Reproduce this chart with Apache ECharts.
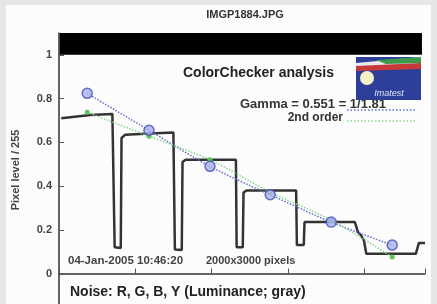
<!DOCTYPE html>
<html>
<head>
<meta charset="utf-8">
<script src="https://cdn.jsdelivr.net/npm/echarts@6/dist/echarts.min.js"></script>
<style>
  html, body { margin: 0; padding: 0; background: #e6e6e6; }
  #chart { width: 437px; height: 304px; }
</style>
</head>
<body>
<div id="chart"></div>
<script>
// step trace across the grey patches (x = position along the strip, y = pixel level / 255)
var stepX = [3, 41, 70, 72, 73, 81, 82, 87, 119, 150, 152, 161, 162, 166, 232, 233, 241, 242, 246, 311, 312, 321, 322, 388, 392, 396, 400, 403, 468, 472, 480];
var stepY = [0.71, 0.725, 0.73, 0.725, 0.12, 0.117, 0.62, 0.635, 0.64, 0.645, 0.11, 0.108, 0.51, 0.52, 0.52, 0.12, 0.12, 0.37, 0.38, 0.38, 0.13, 0.13, 0.235, 0.235, 0.19, 0.175, 0.15, 0.09, 0.09, 0.14, 0.14];
// patch centres and the two fits
var patchX = [37, 118, 198, 277, 357, 437];
var gammaY = [0.824, 0.655, 0.49, 0.36, 0.235, 0.13];
var orderY = [0.737, 0.628, 0.52, 0.372, 0.244, 0.075];

var font = 'Liberation Sans';

function pairs(xs, ys) {
  return xs.map(function (x, i) { return [x, ys[i]]; });
}

var chart = echarts.init(document.getElementById('chart'));
chart.setOption({
  backgroundColor: '#e6e6e6',
  animation: false,
  grid: [
    { left: 59, top: 33, right: 12, bottom: 30.5 },
    { left: 59, top: 274, right: 12, height: 60 }
  ],
  xAxis: [{
    type: 'value', min: 0, max: 480, interval: 100,
    axisLine: { show: true, lineStyle: { color: '#333', width: 1.5 } },
    axisTick: { show: true, inside: true, length: 5, lineStyle: { color: '#555' } },
    axisLabel: { show: false },
    splitLine: { show: false }
  }, {
    type: 'value', gridIndex: 1, min: 0, max: 1, show: false
  }],
  yAxis: [{
    type: 'value', min: 0, max: 1.1, interval: 0.2,
    axisLine: { show: true, lineStyle: { color: '#333', width: 1.5 } },
    axisTick: { show: true, inside: true, length: 5, lineStyle: { color: '#555' } },
    axisLabel: {
      color: '#444', fontSize: 11, fontWeight: 'bold', fontFamily: font, margin: 7,
      formatter: function (v) { return v > 1.01 ? '' : String(+v.toFixed(1)); }
    },
    splitLine: { show: false }
  }, {
    type: 'value', gridIndex: 1, min: 0, max: 1,
    axisLine: { show: true, lineStyle: { color: '#333', width: 1.5 } },
    axisTick: { show: false }, axisLabel: { show: false }, splitLine: { show: false }
  }],
  series: [
    {
      name: 'steps', type: 'line', data: pairs(stepX, stepY),
      showSymbol: false, symbol: 'none',
      lineStyle: { color: '#333', width: 2.5 },
      markArea: {
        silent: true,
        itemStyle: { color: '#000' },
        data: [[{ xAxis: 1, yAxis: 1.0 }, { xAxis: 476, yAxis: 1.1 }]]
      },
      z: 2
    },
    {
      name: 'Gamma', type: 'line', data: pairs(patchX, gammaY),
      smooth: 0.3, symbol: 'none',
      lineStyle: { color: '#6070cc', width: 1.5, type: 'dotted' },
      z: 3
    },
    {
      name: '2nd order', type: 'line', data: pairs(patchX, orderY),
      smooth: 0.3, symbol: 'circle', symbolSize: 5,
      itemStyle: { color: '#5cc45c' },
      lineStyle: { color: '#8cd88c', width: 1.5, type: 'dotted' },
      z: 4
    },
    {
      name: 'points', type: 'scatter', data: pairs(patchX, gammaY),
      symbol: 'circle', symbolSize: 10,
      itemStyle: { color: '#a9b2ec', borderColor: '#4050bb', borderWidth: 1.5 },
      z: 5
    },
    {
      name: 'noise', type: 'line', xAxisIndex: 1, yAxisIndex: 1, data: []
    }
  ],
  graphic: [
    { type: 'rect', z: -10, shape: { x: 6, y: 5, width: 425, height: 300 }, style: { fill: '#fcfcfc' } },
    { type: 'text', x: 245, y: 15, style: { text: 'IMGP1884.JPG', font: 'bold 11px ' + font, fill: '#333', align: 'center', verticalAlign: 'middle' } },
    { type: 'text', x: 183, y: 73, style: { text: 'ColorChecker analysis', font: 'bold 14px ' + font, fill: '#222', verticalAlign: 'middle' } },
    { type: 'text', x: 386, y: 104, style: { text: 'Gamma = 0.551 = 1/1.81', font: 'bold 13px ' + font, fill: '#333', align: 'right', verticalAlign: 'middle' } },
    { type: 'text', x: 343, y: 118, style: { text: '2nd order', font: 'bold 12px ' + font, fill: '#333', align: 'right', verticalAlign: 'middle' } },
    { type: 'line', shape: { x1: 347, y1: 110, x2: 415, y2: 110 }, style: { stroke: '#6070cc', lineWidth: 1.5, lineDash: [1.5, 2] } },
    { type: 'line', shape: { x1: 347, y1: 121, x2: 415, y2: 121 }, style: { stroke: '#8cd88c', lineWidth: 1.5, lineDash: [1.5, 2] } },
    { type: 'text', x: 68, y: 261, style: { text: '04-Jan-2005 10:46:20', font: 'bold 11.5px ' + font, fill: '#444', verticalAlign: 'middle' } },
    { type: 'text', x: 206, y: 261, style: { text: '2000x3000 pixels', font: 'bold 11px ' + font, fill: '#444', verticalAlign: 'middle' } },
    { type: 'text', x: 16, y: 170, rotation: Math.PI / 2, style: { text: 'Pixel level / 255', font: 'bold 11px ' + font, fill: '#444', align: 'center', verticalAlign: 'middle' } },
    { type: 'text', x: 70, y: 292, style: { text: 'Noise: R, G, B, Y (Luminance; gray)', font: 'bold 14px ' + font, fill: '#222', verticalAlign: 'middle' } },
    // Imatest logo
    {
      type: 'group', x: 356, y: 57,
      children: [
        { type: 'rect', shape: { x: 0, y: 0, width: 65, height: 43 }, style: { fill: '#2d3f98' } },
        { type: 'polygon', shape: { points: [[0, 6], [65, 0], [65, 8], [0, 12]] }, style: { fill: '#e8e8f0' } },
        { type: 'polygon', shape: { points: [[0, 9], [65, 6], [65, 12], [0, 14]] }, style: { fill: '#c83a3a' } },
        { type: 'polygon', shape: { points: [[20, 3], [65, 0], [65, 6], [30, 7]] }, style: { fill: '#3c9a4a' } },
        { type: 'circle', shape: { cx: 11, cy: 21, r: 7 }, style: { fill: '#f4f0c8' } },
        { type: 'text', x: 33, y: 36, style: { text: 'Imatest', font: 'italic 9px ' + font, fill: '#dfe4ff', align: 'center', verticalAlign: 'middle' } }
      ]
    }
  ]
});
</script>
</body>
</html>
